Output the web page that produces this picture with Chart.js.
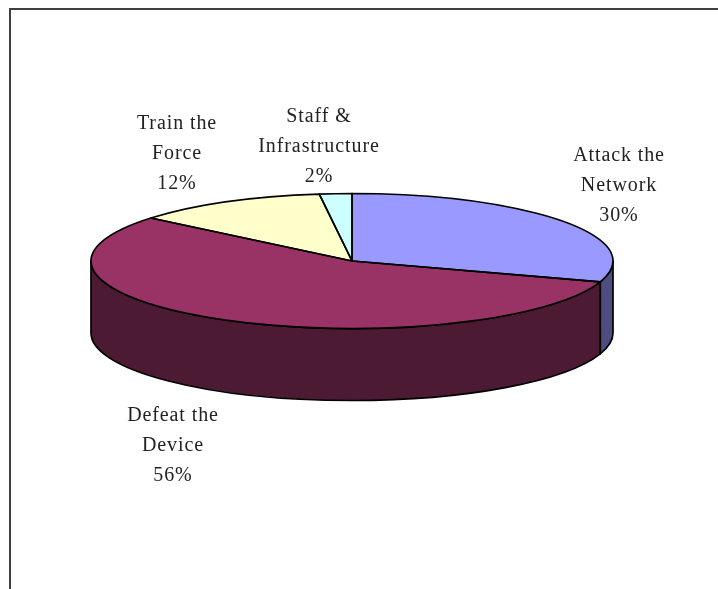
<!DOCTYPE html>
<html>
<head>
<meta charset="utf-8">
<style>
html,body{margin:0;padding:0;background:#fff;overflow:hidden;width:718px;height:589px}
#frame{position:absolute;left:9px;top:8px;width:800px;height:800px;border:2px solid #404040}
#wrap{position:absolute;left:0;top:0;width:718px;height:589px}
</style>
<script src="https://cdn.jsdelivr.net/npm/chart.js@4"></script>
</head>
<body>
<div id="frame"></div>
<div id="wrap"><canvas id="c" width="718" height="589"></canvas></div>
<script>
const categories = ["Attack the Network", "Defeat the Device", "Train the Force", "Staff & Infrastructure"];
const values = [30, 56, 12, 2];
const labelLines = [["Attack the", "Network", "30%"], ["Defeat the", "Device", "56%"], ["Train the", "Force", "12%"], ["Staff &", "Infrastructure", "2%"]];
const topColors = ["#9999FF", "#993366", "#FFFFCC", "#CCFFFF"];
const sideColors = ["#4D4D80", "#4D1A33", "#80803F", "#668080"];
const labelAnchors = [[619, 161], [173, 421], [177, 129], [319, 122]];

const tilt = 0.2586, depth = 72, edge = "#000", edgeWidth = 1.7;

function squash(ctx, x, y) {
  ctx.translate(x, y); ctx.scale(1, tilt); ctx.translate(-x, -y);
}
const pie3d = {
  id: "pie3d",
  beforeDatasetsDraw(chart) {
    const ctx = chart.ctx, arcs = chart.getDatasetMeta(0).data;
    ctx.save();
    ctx.lineJoin = "round";
    arcs.forEach((a, i) => {
      const ry = a.outerRadius * tilt, rx = a.outerRadius;
      // only the part of a slice on the near half of the disc has a visible wall
      [0, 2 * Math.PI].forEach(shift => {
        const s = Math.max(a.startAngle - shift, 0), e = Math.min(a.endAngle - shift, Math.PI);
        if (e <= s) return;
        ctx.beginPath();
        ctx.ellipse(a.x, a.y, rx, ry, 0, s, e);
        ctx.ellipse(a.x, a.y + depth, rx, ry, 0, e, s, true);
        ctx.closePath();
        ctx.fillStyle = sideColors[i];
        ctx.fill();
        ctx.lineWidth = edgeWidth; ctx.strokeStyle = edge;
        ctx.stroke();
      });
    });
    ctx.restore();
    ctx.save();
    const c = arcs[0];
    squash(ctx, c.x, c.y);
  },
  afterDatasetsDraw(chart) {
    const ctx = chart.ctx, arcs = chart.getDatasetMeta(0).data;
    ctx.restore();
    // outlines stroked at an even width on the squashed disc
    arcs.forEach(a => {
      ctx.save();
      squash(ctx, a.x, a.y);
      ctx.beginPath();
      ctx.moveTo(a.x, a.y);
      ctx.arc(a.x, a.y, a.outerRadius, a.startAngle, a.endAngle);
      ctx.closePath();
      ctx.restore();
      ctx.lineWidth = edgeWidth; ctx.strokeStyle = edge; ctx.lineJoin = "round";
      ctx.stroke();
    });
  },
  afterDraw(chart) {
    const ctx = chart.ctx;
    ctx.save();
    ctx.font = '20px "Liberation Serif"';
    ctx.letterSpacing = "0.9px";
    ctx.fillStyle = "#222";
    ctx.textAlign = "center";
    ctx.textBaseline = "alphabetic";
    labelLines.forEach((lines, i) => {
      lines.forEach((t, k) => ctx.fillText(t, labelAnchors[i][0], labelAnchors[i][1] + k * 30));
    });
    ctx.restore();
  }
};

new Chart(document.getElementById("c"), {
  type: "pie",
  data: {
    labels: categories,
    datasets: [{ data: values, backgroundColor: topColors, borderWidth: 0 }]
  },
  options: {
    responsive: false,
    animation: false,
    layout: { padding: { left: 91, right: 105, top: 0, bottom: 67 } },
    plugins: { legend: { display: false }, tooltip: { enabled: false } }
  },
  plugins: [pie3d]
});
</script>
</body>
</html>
